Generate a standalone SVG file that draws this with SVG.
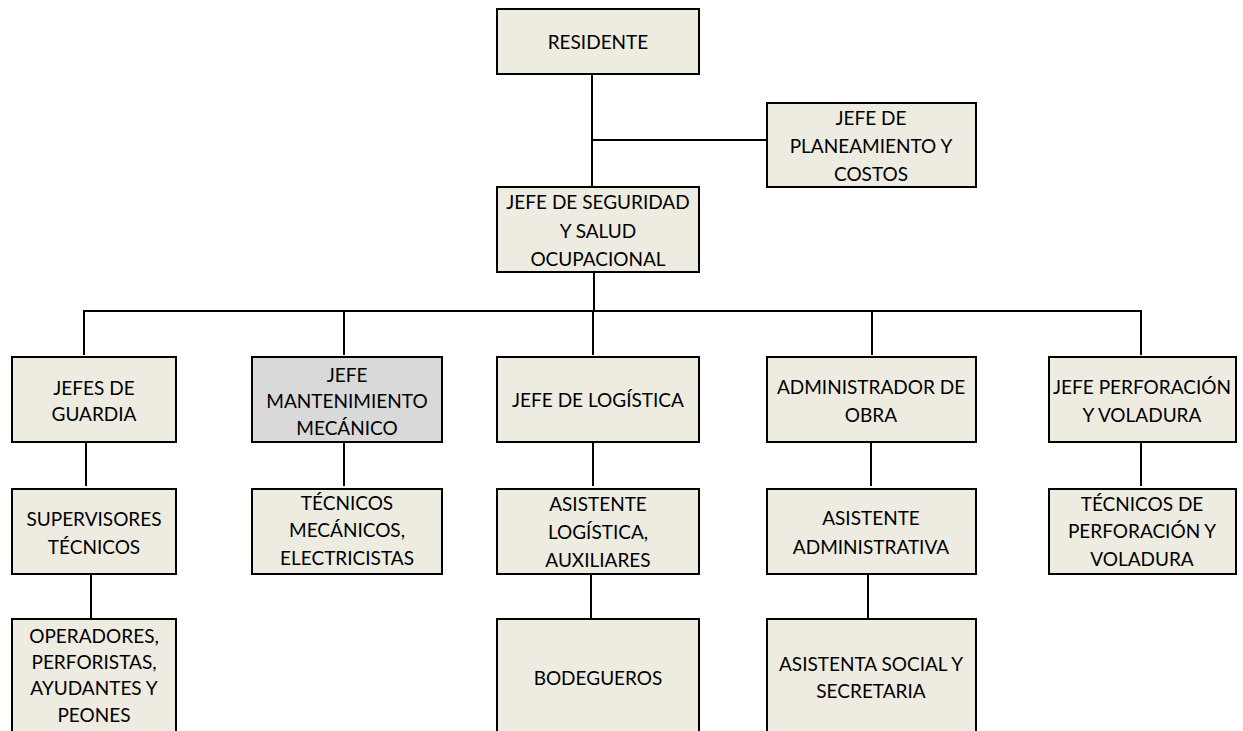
<svg xmlns="http://www.w3.org/2000/svg" width="1243" height="731" viewBox="0 0 1243 731">
  <style>
    .box { fill: #EEECE1; stroke: #000; stroke-width: 2; }
    .box.gray { fill: #D9D9D9; }
    .lbl { font-family: Lato, "Liberation Sans", sans-serif; font-size: 19px; fill: #000; text-anchor: middle; }
    .conn line { stroke: #000; stroke-width: 2; }
  </style>
  <rect width="1243" height="731" fill="#fff"/>

  <!-- connectors -->
  <g id="connectors" class="conn">
    <line x1="592" y1="74" x2="592" y2="187"/>
    <line x1="592" y1="140" x2="767" y2="140"/>
    <line x1="594" y1="272" x2="594" y2="311"/>
    <line x1="83" y1="311" x2="1142" y2="311"/>
    <line x1="84" y1="310" x2="84" y2="355"/>
    <line x1="344" y1="311" x2="344" y2="355"/>
    <line x1="593" y1="311" x2="593" y2="355"/>
    <line x1="872" y1="311" x2="872" y2="355"/>
    <line x1="1141" y1="310" x2="1141" y2="355"/>
    <line x1="86" y1="442" x2="86" y2="486"/>
    <line x1="344" y1="442" x2="344" y2="486"/>
    <line x1="593" y1="442" x2="593" y2="486"/>
    <line x1="871" y1="442" x2="871" y2="486"/>
    <line x1="1141" y1="442" x2="1141" y2="486"/>
    <line x1="91" y1="574" x2="91" y2="618"/>
    <line x1="591" y1="574" x2="591" y2="618"/>
    <line x1="868" y1="574" x2="868" y2="618"/>
  </g>

  <g id="residente">
    <rect class="box" x="497" y="9" width="202" height="65"/>
    <text class="lbl" x="598" y="49">RESIDENTE</text>
  </g>

  <g id="planeamiento">
    <rect class="box" x="767" y="103" width="209" height="84"/>
    <text class="lbl" x="871" y="125">JEFE DE</text>
    <text class="lbl" x="871" y="153">PLANEAMIENTO Y</text>
    <text class="lbl" x="871" y="181">COSTOS</text>
  </g>

  <g id="seguridad">
    <rect class="box" x="497" y="187" width="202" height="85"/>
    <text class="lbl" x="598" y="209">JEFE DE SEGURIDAD</text>
    <text class="lbl" x="598" y="238">Y SALUD</text>
    <text class="lbl" x="598" y="266">OCUPACIONAL</text>
  </g>

  <g id="jefes-guardia">
    <rect class="box" x="12" y="357" width="164" height="85"/>
    <text class="lbl" x="94" y="395">JEFES DE</text>
    <text class="lbl" x="94" y="421">GUARDIA</text>
  </g>

  <g id="mantenimiento">
    <rect class="box gray" x="252" y="357" width="190" height="85"/>
    <text class="lbl" x="347" y="382">JEFE</text>
    <text class="lbl" x="347" y="408">MANTENIMIENTO</text>
    <text class="lbl" x="347" y="435">MECÁNICO</text>
  </g>

  <g id="logistica">
    <rect class="box" x="497" y="357" width="202" height="85"/>
    <text class="lbl" x="598" y="407">JEFE DE LOGÍSTICA</text>
  </g>

  <g id="administrador">
    <rect class="box" x="767" y="357" width="209" height="85"/>
    <text class="lbl" x="871" y="394">ADMINISTRADOR DE</text>
    <text class="lbl" x="871" y="422">OBRA</text>
  </g>

  <g id="perforacion">
    <rect class="box" x="1049" y="357" width="187" height="85"/>
    <text class="lbl" x="1142" y="394">JEFE PERFORACIÓN</text>
    <text class="lbl" x="1142" y="422">Y VOLADURA</text>
  </g>

  <g id="supervisores">
    <rect class="box" x="12" y="489" width="164" height="85"/>
    <text class="lbl" x="94" y="526">SUPERVISORES</text>
    <text class="lbl" x="94" y="554">TÉCNICOS</text>
  </g>

  <g id="tecnicos-mecanicos">
    <rect class="box" x="252" y="489" width="190" height="85"/>
    <text class="lbl" x="347" y="510">TÉCNICOS</text>
    <text class="lbl" x="347" y="537">MECÁNICOS,</text>
    <text class="lbl" x="347" y="565">ELECTRICISTAS</text>
  </g>

  <g id="asistente-logistica">
    <rect class="box" x="497" y="489" width="202" height="85"/>
    <text class="lbl" x="598" y="511">ASISTENTE</text>
    <text class="lbl" x="598" y="539">LOGÍSTICA,</text>
    <text class="lbl" x="598" y="567">AUXILIARES</text>
  </g>

  <g id="asistente-administrativa">
    <rect class="box" x="767" y="489" width="209" height="85"/>
    <text class="lbl" x="871" y="525">ASISTENTE</text>
    <text class="lbl" x="871" y="554">ADMINISTRATIVA</text>
  </g>

  <g id="tecnicos-perforacion">
    <rect class="box" x="1049" y="489" width="187" height="85"/>
    <text class="lbl" x="1142" y="511">TÉCNICOS DE</text>
    <text class="lbl" x="1142" y="538">PERFORACIÓN Y</text>
    <text class="lbl" x="1142" y="566">VOLADURA</text>
  </g>

  <g id="operadores">
    <rect class="box" x="12" y="619" width="164" height="120"/>
    <text class="lbl" x="94" y="643">OPERADORES,</text>
    <text class="lbl" x="94" y="669">PERFORISTAS,</text>
    <text class="lbl" x="94" y="695">AYUDANTES Y</text>
    <text class="lbl" x="94" y="722">PEONES</text>
  </g>

  <g id="bodegueros">
    <rect class="box" x="497" y="619" width="202" height="120"/>
    <text class="lbl" x="598" y="685">BODEGUEROS</text>
  </g>

  <g id="asistenta-social">
    <rect class="box" x="767" y="619" width="209" height="120"/>
    <text class="lbl" x="871" y="671">ASISTENTA SOCIAL Y</text>
    <text class="lbl" x="871" y="698">SECRETARIA</text>
  </g>
</svg>
